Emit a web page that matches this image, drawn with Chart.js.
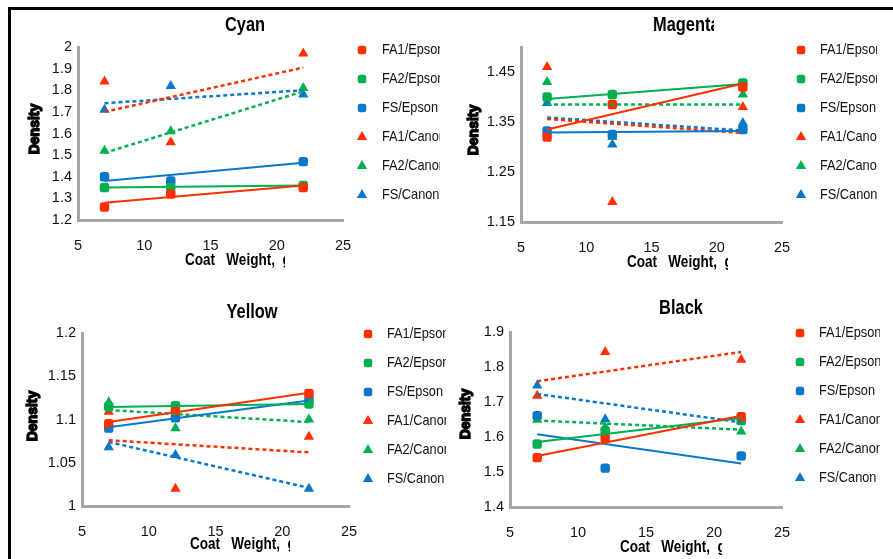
<!DOCTYPE html>
<html>
<head>
<meta charset="utf-8">
<title>Density vs Coat Weight</title>
<script src="https://cdn.jsdelivr.net/npm/chart.js@4.4.0/dist/chart.umd.min.js"></script>
<style>
  html, body { margin: 0; padding: 0; background: #fff; }
  body { width: 893px; height: 559px; position: relative; overflow: hidden; }
  #frame { position: absolute; left: 8px; top: 7px; right: -10px; bottom: -10px;
           border-top: 3px solid #000; border-left: 3px solid #000; }
  canvas { position: absolute; }
</style>
</head>
<body>
<div id="frame"></div>
<canvas id="cyan" width="446" height="280" style="left:0;top:0"></canvas>
<canvas id="magenta" width="447" height="280" style="left:446px;top:0"></canvas>
<canvas id="yellow" width="446" height="279" style="left:0;top:280px"></canvas>
<canvas id="black" width="447" height="279" style="left:446px;top:280px"></canvas>
<script>
// Series, in legend order
const seriesNames = ['FA1/Epson', 'FA2/Epson', 'FS/Epson', 'FA1/Canon', 'FA2/Canon', 'FS/Canon'];
const seriesColors = ['#ff3000', '#00b050', '#0a78c8', '#ff3000', '#00b050', '#0a78c8'];

// Coat weight (x) of the measured samples, and the x span of the trend lines
const coatWeight = [7, 12, 22];
const trendWeight = [7, 22];
const xTicks = [5, 10, 15, 20, 25];

// Cyan density, one row per series
const cyanPoints = [
  [1.26, 1.32, 1.35],
  [1.35, 1.35, 1.36],
  [1.40, 1.38, 1.47],
  [1.84, 1.56, 1.97],
  [1.52, 1.61, 1.81],
  [1.71, 1.82, 1.78]
];
const cyanTrend = [
  [1.28, 1.36], [1.35, 1.36], [1.38, 1.465],
  [1.70, 1.905], [1.51, 1.795], [1.74, 1.80]
];
const cyanTicks = [1.2, 1.3, 1.4, 1.5, 1.6, 1.7, 1.8, 1.9, 2];

// Magenta density
const magentaPoints = [
  [1.32, 1.385, 1.42],
  [1.40, 1.405, 1.428],
  [1.332, 1.325, 1.335],
  [1.46, 1.19, 1.38],
  [1.43, 1.32, 1.405],
  [1.388, 1.305, 1.348]
];
const magentaTrend = [
  [1.335, 1.427], [1.396, 1.426], [1.329, 1.332],
  [1.356, 1.328], [1.385, 1.385], [1.359, 1.333]
];
const magentaTicks = [1.15, 1.25, 1.35, 1.45];

// Yellow density
const yellowPoints = [
  [1.095, 1.11, 1.13],
  [1.115, 1.116, 1.118],
  [1.09, 1.102, 1.123],
  [1.109, 1.02, 1.08],
  [1.12, 1.09, 1.10],
  [1.068, 1.059, 1.02]
];
const yellowTrend = [
  [1.097, 1.131], [1.1145, 1.118], [1.091, 1.122],
  [1.076, 1.062], [1.111, 1.097], [1.074, 1.021]
];
const yellowTicks = [1, 1.05, 1.1, 1.15, 1.2];

// Black density
const blackPoints = [
  [1.541, 1.597, 1.658],
  [1.58, 1.618, 1.647],
  [1.661, 1.511, 1.546],
  [1.718, 1.843, 1.821],
  [1.649, 1.628, 1.616],
  [1.747, 1.651, 1.645]
];
const blackTrend = [
  [1.546, 1.661], [1.586, 1.654], [1.608, 1.524],
  [1.759, 1.843], [1.647, 1.621], [1.723, 1.642]
];
const blackTicks = [1.4, 1.5, 1.6, 1.7, 1.8, 1.9];

// Page layout of each panel (page pixels)
const panels = [
  { id: 'cyan', title: 'Cyan', points: cyanPoints, trend: cyanTrend, yTicks: cyanTicks,
    left: 0, top: 0, w: 446, h: 280, area: [78, 47, 343, 220],
    titlePos: [245, 25, 'center', 999], xTitle: [185, 260, 285], yTitle: [35, 129],
    legend: [362, 382, 50, 440] },
  { id: 'magenta', title: 'Magenta', points: magentaPoints, trend: magentaTrend, yTicks: magentaTicks,
    left: 446, top: 0, w: 447, h: 280, area: [521, 47, 782, 222],
    titlePos: [653, 25, 'left', 714], xTitle: [627, 262, 728], yTitle: [474, 130],
    legend: [801, 820, 50, 877] },
  { id: 'yellow', title: 'Yellow', points: yellowPoints, trend: yellowTrend, yTicks: yellowTicks,
    left: 0, top: 280, w: 446, h: 279, area: [82, 333, 349, 506],
    titlePos: [252, 312, 'center', 999], xTitle: [190, 544, 290], yTitle: [33, 416],
    legend: [368, 387, 334, 447] },
  { id: 'black', title: 'Black', points: blackPoints, trend: blackTrend, yTicks: blackTicks,
    left: 446, top: 280, w: 447, h: 279, area: [510, 332, 782, 507],
    titlePos: [681, 308, 'center', 999], xTitle: [620, 547, 722], yTitle: [466, 414],
    legend: [800, 819, 333, 880] }
];

const FONT = '"Liberation Sans", Arial, sans-serif';
const NARROW_X = 0.82;   // horizontal squeeze to mimic the condensed face
const LEGEND_X = 0.88;
const Y_AXIS_W = 50;
const X_AXIS_H = 40;

function clippedText(ctx, str, x, y, align, clipRight, sx) {
  ctx.save();
  ctx.beginPath();
  ctx.rect(-1000, -1000, clipRight + 1000, 3000);
  ctx.clip();
  ctx.translate(x, y);
  ctx.scale(sx || 1, 1);
  ctx.textAlign = align;
  ctx.fillText(str, 0, 0);
  ctx.restore();
}

function drawMarker(ctx, style, x, y, color) {
  ctx.fillStyle = color;
  ctx.beginPath();
  if (style === 'triangle') {
    const r = 6;
    ctx.moveTo(x, y - r);
    ctx.lineTo(x + r * 0.866, y + r * 0.5);
    ctx.lineTo(x - r * 0.866, y + r * 0.5);
    ctx.closePath();
  } else {
    const s = 8.5, c = 2.5;
    ctx.roundRect(x - s / 2, y - s / 2, s, s, c);
  }
  ctx.fill();
}

// titles, axis titles and the legend, drawn at fixed page places
const panelDecor = {
  id: 'panelDecor',
  afterDraw(chart, args, o) {
    const p = o.panel;
    const ctx = chart.ctx;
    const ox = p.left, oy = p.top;
    ctx.save();
    ctx.fillStyle = '#000';
    ctx.textBaseline = 'middle';

    ctx.font = 'bold 20px ' + FONT;
    clippedText(ctx, p.title, p.titlePos[0] - ox, p.titlePos[1] - oy, p.titlePos[2], p.titlePos[3] - ox, NARROW_X);

    ctx.font = 'bold 16.5px ' + FONT;
    clippedText(ctx, 'Coat   Weight,  g/m\u00b2', p.xTitle[0] - ox, p.xTitle[1] - oy, 'left', p.xTitle[2] - ox, NARROW_X);

    ctx.save();
    ctx.translate(p.yTitle[0] - ox, p.yTitle[1] - oy);
    ctx.rotate(-Math.PI / 2);
    ctx.font = 'bold 14px ' + FONT;
    ctx.textAlign = 'center';
    ctx.lineWidth = 1.4;
    ctx.strokeStyle = '#000';
    ctx.strokeText('Density', 0, 0);
    ctx.fillText('Density', 0, 0);
    ctx.restore();

    const [mx, tx, y0, clipR] = p.legend;
    seriesNames.forEach((name, i) => {
      const y = y0 + i * 29 - oy;
      drawMarker(ctx, i < 3 ? 'square' : 'triangle', mx - ox, y, seriesColors[i]);
      ctx.fillStyle = '#111';
      ctx.font = '14.5px ' + FONT;
      clippedText(ctx, name, tx - ox, y, 'left', clipR - ox, LEGEND_X);
    });
    ctx.restore();
  }
};

Chart.defaults.font.family = FONT;
Chart.defaults.font.size = 14.5;
Chart.defaults.color = '#111';

panels.forEach(p => {
  const datasets = [];
  // trend lines first in the list so they sit on top of the markers
  p.trend.forEach((vals, i) => {
    datasets.push({
      label: seriesNames[i] + ' trend',
      data: trendWeight.map((x, k) => ({ x: x, y: vals[k] })),
      showLine: true,
      borderColor: seriesColors[i],
      borderWidth: i < 3 ? 2 : 2.5,
      borderDash: i < 3 ? [] : [4, 3],
      pointRadius: 0,
      order: 1
    });
  });
  p.points.forEach((vals, i) => {
    datasets.push({
      label: seriesNames[i],
      data: coatWeight.map((x, k) => ({ x: x, y: vals[k] })),
      pointStyle: i < 3 ? 'rectRounded' : 'triangle',
      pointRadius: i < 3 ? 5.5 : 6,
      backgroundColor: seriesColors[i],
      borderColor: seriesColors[i],
      borderWidth: 0,
      order: 2
    });
  });

  const [aL, aT, aR, aB] = p.area;
  new Chart(document.getElementById(p.id), {
    type: 'scatter',
    data: { datasets },
    options: {
      responsive: false,
      animation: false,
      events: [],
      layout: {
        padding: {
          left: aL - p.left - Y_AXIS_W,
          top: aT - p.top,
          right: p.left + p.w - aR,
          bottom: p.top + p.h - aB - X_AXIS_H
        }
      },
      plugins: {
        legend: { display: false },
        title: { display: false },
        tooltip: { enabled: false },
        panelDecor: { panel: p }
      },
      scales: {
        x: {
          type: 'linear',
          min: xTicks[0],
          max: xTicks[xTicks.length - 1],
          afterFit: s => { s.height = X_AXIS_H; },
          afterBuildTicks: s => { s.ticks = xTicks.map(v => ({ value: v })); },
          grid: { display: false, drawTicks: false },
          border: { color: '#a6a6a6', width: 3 },
          ticks: { padding: 17, autoSkip: false, maxRotation: 0, callback: v => String(v) }
        },
        y: {
          type: 'linear',
          min: p.yTicks[0],
          max: p.id === 'magenta' ? 1.5 : p.yTicks[p.yTicks.length - 1],
          afterFit: s => { s.width = Y_AXIS_W; },
          afterBuildTicks: s => { s.ticks = p.yTicks.map(v => ({ value: v })); },
          grid: { display: false, drawTicks: false },
          border: { color: '#a6a6a6', width: 3 },
          ticks: { padding: 6, autoSkip: false, callback: v => String(+v.toFixed(3)) }
        }
      }
    },
    plugins: [panelDecor]
  });
});
</script>
</body>
</html>
